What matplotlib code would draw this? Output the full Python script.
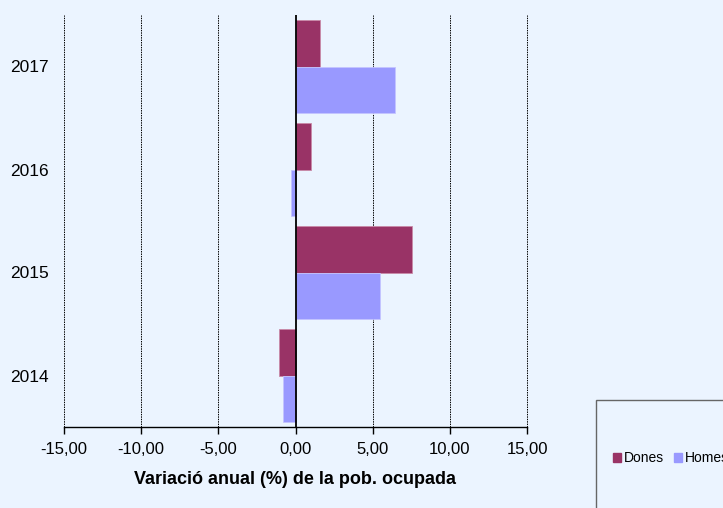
import matplotlib.pyplot as plt
from matplotlib.patches import Rectangle, Patch
from matplotlib.ticker import FuncFormatter

years = ["2014", "2015", "2016", "2017"]
dones = [-1.10, 7.53, 1.00, 1.56]
homes = [-0.84, 5.50, -0.30, 6.42]

bg = "#EBF4FF"
c_dones = "#993366"
c_homes = "#9999FF"

plt.rcParams["font.family"] = ["Liberation Sans", "DejaVu Sans"]

fig = plt.figure(figsize=(7.23, 5.08), dpi=100, facecolor=bg)
ax = fig.add_axes([64 / 723, 81 / 508, 463 / 723, 412 / 508])
ax.set_facecolor(bg)

ypos = list(range(len(years)))
h = 0.455
ax.barh([y + h / 2 for y in ypos], dones, height=h, color=c_dones,
        edgecolor="#c98aa8", linewidth=0.6, zorder=3)
ax.barh([y - h / 2 for y in ypos], homes, height=h, color=c_homes,
        edgecolor="#c4c4ff", linewidth=0.6, zorder=3)

ax.set_xlim(-15, 15)
ax.set_ylim(-0.5, 3.5)
ax.set_xticks(range(-15, 16, 5))
ax.xaxis.set_major_formatter(FuncFormatter(lambda v, p: f"{v:.2f}".replace(".", ",")))

# dotted vertical grid, solid line at zero
for v in range(-15, 16, 5):
    if v != 0:
        ax.axvline(v, color="black", linestyle=(0, (1.5, 1)), linewidth=0.7,
                   zorder=1, clip_on=False)
ax.axvline(0, color="black", linewidth=1.3, zorder=4)

for s in ["top", "right", "left"]:
    ax.spines[s].set_visible(False)
ax.spines["bottom"].set_linewidth(1.0)
ax.tick_params(axis="x", direction="out", length=5, width=1, labelsize=12, pad=6)
ax.tick_params(axis="y", length=0, labelsize=12.5, pad=11)
ax.set_yticks(ypos)
ax.set_yticklabels(years)
ax.set_xlabel("Variació anual (%) de la pob. ocupada", fontsize=13,
              fontweight="bold", labelpad=10)

# legend box, partly cut off at the figure edge
fig.patches.append(Rectangle((596 / 723, -0.05), 0.3, 0.05 + 108 / 508,
                             transform=fig.transFigure, facecolor=bg,
                             edgecolor="#666666", linewidth=1.0))
handles = [Patch(color=c_dones, label="Dones"), Patch(color=c_homes, label="Homes")]
fig.legend(handles=handles, loc="center left", bbox_to_anchor=(607 / 723, 50 / 508),
           ncol=2, frameon=False, fontsize=10, handlelength=0.6, handleheight=0.6,
           handletextpad=0.2, columnspacing=0.7, borderaxespad=0)

fig.savefig("out.png", dpi=100, facecolor=bg)
